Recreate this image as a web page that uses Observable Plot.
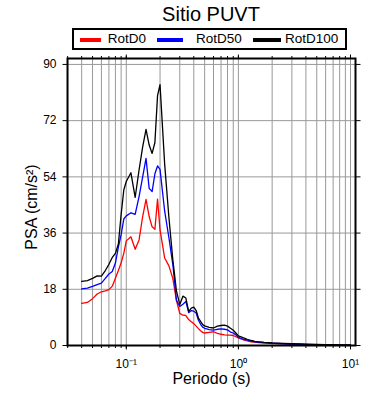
<!DOCTYPE html>
<html><head><meta charset="utf-8">
<script src="https://cdn.jsdelivr.net/npm/d3@7"></script>
<script src="https://cdn.jsdelivr.net/npm/@observablehq/plot@0.6"></script>
<style>
body{margin:0;background:#fff;font-family:"Liberation Sans",Arial,Helvetica,sans-serif;color:#000;}
#wrap{width:390px;height:400px;position:relative;overflow:hidden;}
#header{position:relative;height:52px;}
#title{position:absolute;left:111px;width:200px;top:2px;text-align:center;font-size:20px;line-height:24px;}
#legend{position:absolute;left:72px;top:28px;width:271px;height:18px;border:2px solid #000;}
.sw{position:absolute;top:8px;height:4px;}
.lt{position:absolute;top:0;font-size:13.5px;line-height:18px;white-space:nowrap;}
svg{display:block;}
</style></head>
<body><div id="wrap"><div id="header"><div id="title">Sitio PUVT</div><div id="legend"></div></div><div id="chart"></div></div>
<script>
const periods = [0.04,0.045,0.05,0.055,0.06,0.065,0.07,0.075,0.08,0.085,0.09,0.095,
  0.1,0.11,0.12,0.13,0.14,0.15,0.16,0.17,0.18,0.19,0.2,
  0.22,0.24,0.26,0.28,0.3,0.32,0.34,0.36,0.38,0.4,0.42,0.44,0.46,0.48,0.5,
  0.55,0.6,0.65,0.7,0.75,0.8,0.85,0.9,0.95,1.0,
  1.1,1.2,1.3,1.4,1.5,1.7,2.0,2.5,3.0,3.5,4.0,5.0,6.0,7.0,8.0,9.0,10.0];
const rotD0 = [13.5,13.8,15.0,16.5,17.2,17.5,17.9,19.0,21.5,24.0,26.5,29.5,
  33.5,34.8,30.8,33.8,41.3,46.8,41.3,38.0,37.2,46.9,37.0,
  28.0,25.5,21.5,14.5,10.3,9.7,9.6,8.3,7.6,7.0,6.2,5.4,4.7,4.2,4.0,
  4.2,4.4,3.9,3.6,3.4,3.3,3.3,3.2,2.8,2.4,
  1.9,1.5,1.2,1.05,0.95,0.8,0.65,0.5,0.4,0.35,0.3,0.22,0.18,0.15,0.12,0.11,0.1];
const rotD50 = [18.1,18.4,18.9,19.5,20.0,21.5,22.9,23.7,26.4,31.5,35.5,40.5,
  41.5,42.5,42.0,47.7,54.0,59.9,50.3,49.3,55.0,57.5,56.4,
  43.0,34.5,26.0,14.5,12.5,13.2,14.1,10.5,11.2,11.0,10.4,8.1,6.8,5.9,5.5,
  5.1,4.9,5.2,5.3,5.2,5.0,4.3,4.0,3.4,2.6,
  2.0,1.7,1.4,1.2,1.05,0.9,0.72,0.56,0.46,0.4,0.35,0.27,0.22,0.18,0.15,0.13,0.12];
const rotD100 = [20.5,20.8,21.5,22.3,22.2,24.0,26.0,28.2,29.5,32.5,42.0,49.8,
  52.5,55.3,47.4,56.2,63.6,69.2,64.2,61.5,65.0,80.0,83.5,
  58.0,41.0,27.5,17.5,13.1,15.8,15.2,10.9,12.0,12.3,11.2,8.8,7.7,6.7,6.3,
  5.8,5.6,6.2,6.4,6.5,6.2,5.5,4.9,4.0,3.1,
  2.5,2.0,1.6,1.35,1.2,1.0,0.82,0.66,0.56,0.5,0.45,0.36,0.3,0.25,0.21,0.18,0.16];
const seriesNames = ["RotD0","RotD50","RotD100"];
const seriesColors = ["#ff0000","#0000ff","#000000"];
const yTicks = [0,18,36,54,72,90];
const xMajorTicks = [0.1,1,10];
const xMajorLabels = ["10\u207B\u00B9","10\u2070","10\u00B9"];
const titleText = "Sitio PUVT";
const xLabel = "Periodo (s)";
const yLabel = "PSA (cm/s\u00B2)";

// legend (HTML)
const legendLayout = [{sw:6,w:21,t:33.7},{sw:82.7,w:26.6,t:122},{sw:178.7,w:28,t:211}];
const legend = document.getElementById("legend");
seriesNames.forEach((name,i)=>{
  const s=document.createElement("div");s.className="sw";
  s.style.left=legendLayout[i].sw+"px";s.style.width=legendLayout[i].w+"px";s.style.background=seriesColors[i];
  const t=document.createElement("div");t.className="lt";t.style.left=legendLayout[i].t+"px";t.textContent=name;
  legend.appendChild(s);legend.appendChild(t);
});

const rows = [];
[rotD0, rotD50, rotD100].forEach((vals,i)=>vals.forEach((v,j)=>rows.push({period:periods[j],psa:v,series:seriesNames[i]})));

const minorTicks = [];
for (const e of [-2,-1,0,1]) for (let m=1;m<10;m++){const v=+(m*Math.pow(10,e)).toPrecision(3); if (v>=0.03 && v<=10.5) minorTicks.push(v);}

const chart = Plot.plot({
  width: 390, height: 348,
  marginTop: 6, marginBottom: 55, marginLeft: 67, marginRight: 35,
  x: {type: "log", domain: [0.0299, 11.08]},
  y: {domain: [0, 91.9]},
  color: {domain: seriesNames, range: seriesColors},
  style: {fontFamily: "'Liberation Sans', Arial, Helvetica, sans-serif", fontSize: "12px", color: "#000", background: "#fff"},
  marks: [
    Plot.gridX(minorTicks, {stroke: "#999", strokeOpacity: 1, strokeWidth: 1}),
    Plot.gridY(yTicks.filter(d=>d>0), {stroke: "#999", strokeOpacity: 1, strokeWidth: 1}),
    Plot.line(rows, {x: "period", y: "psa", z: "series", stroke: "series", strokeWidth: 1.3}),
    Plot.frame({stroke: "#000", strokeWidth: 2}),
    Plot.axisX(minorTicks, {anchor: "bottom", tickSize: 3, fill: "none", label: null}),
    Plot.axisX(xMajorTicks, {anchor: "bottom", tickSize: 4.5, tickPadding: 9, fontSize: 12, label: null,
      tickFormat: d => xMajorLabels[xMajorTicks.indexOf(d)]}),
    Plot.axisX(minorTicks, {anchor: "top", tickSize: 3, fill: "none", label: null}),
    Plot.axisX(xMajorTicks, {anchor: "top", tickSize: 4.5, fill: "none", label: null}),
    Plot.axisY(yTicks, {anchor: "left", tickSize: 4.5, tickPadding: 6.5, fontSize: 12, label: null}),
    Plot.axisY(yTicks, {anchor: "right", tickSize: 4.5, fill: "none", label: null}),
    Plot.text([xLabel], {frameAnchor: "bottom", dy: 38, fontSize: 16}),
    Plot.text([yLabel], {frameAnchor: "left", textAnchor: "middle", dx: -36, dy: 5, rotate: -90, fontSize: 16})
  ]
});
document.getElementById("chart").appendChild(chart);
</script></body></html>
